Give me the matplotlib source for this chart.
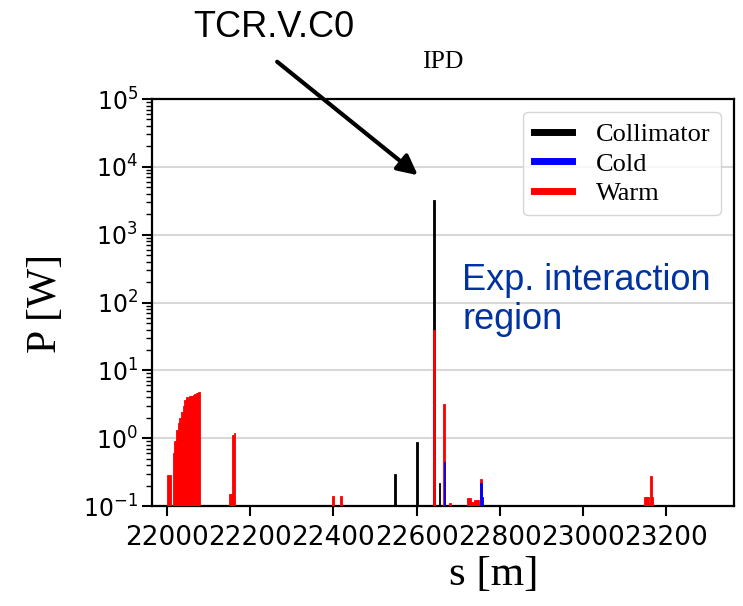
import numpy as np
import matplotlib.pyplot as plt
from matplotlib.lines import Line2D

# collimator losses
coll_s = [22548, 22602, 22642, 22655]
coll_p = [0.30, 0.89, 3300, 0.22]

# cold losses
cold_s = [22667, 22754, 22758]
cold_p = [0.44, 0.22, 0.136]

# warm losses
warm_s = [22004, 22008,
          22017, 22021, 22025, 22029, 22033, 22037, 22041, 22045,
          22049, 22053, 22057, 22061, 22065, 22069, 22073, 22077,
          22151, 22155, 22159, 22163,
          22400, 22418,
          22642, 22665, 22680,
          22724, 22728, 22732, 22736, 22740, 22744, 22748, 22755,
          23148, 23152, 23156, 23162, 23166]
warm_p = [0.29, 0.29,
          0.6, 0.92, 1.3, 1.7, 2.0, 2.4, 3.0, 3.6,
          4.0, 3.9, 4.2, 4.2, 4.4, 4.5, 4.7, 4.8,
          0.15, 0.15, 1.1, 1.2,
          0.14, 0.14,
          40, 3.2, 0.108,
          0.13, 0.13, 0.115, 0.115, 0.12, 0.12, 0.12, 0.25,
          0.135, 0.135, 0.135, 0.28, 0.135]

labels = ["Collimator", "Cold", "Warm"]
colors = ["black", "blue", "red"]
xticks = [22000, 22200, 22400, 22600, 22800, 23000, 23200]

serif = "Liberation Serif"

fig = plt.figure(figsize=(7.43, 6.06), dpi=100)
ax = fig.add_axes([0.2052, 0.165, 0.7826, 0.6716])
ax.set_yscale('log')

w = 4.5
ax.bar(coll_s, coll_p, width=w, color='black', edgecolor='black', lw=0.6, bottom=1e-3, zorder=2)
ax.bar(warm_s, warm_p, width=w, color='red', edgecolor='red', lw=0.6, bottom=1e-3, zorder=3)
ax.bar(cold_s, cold_p, width=w, color='blue', edgecolor='blue', lw=0.6, bottom=1e-3, zorder=4)

ax.set_xlim(21966, 23362)
ax.set_ylim(0.1, 1e5)
ax.set_xticks(xticks)
ax.set_xticklabels([str(t) for t in xticks], fontsize=19, family='DejaVu Sans')
ax.tick_params(axis='y', which='major', labelsize=17, length=7, width=1.5)
ax.tick_params(axis='y', which='minor', length=4, width=1.0)
ax.tick_params(axis='x', which='major', length=7, width=1.5, pad=7)
ax.yaxis.grid(True, which='major', color='#d8d8d8', lw=1.5)
ax.set_axisbelow(True)
for sp in ax.spines.values():
    sp.set_linewidth(1.6)

ax.set_title("IPD", family=serif, fontsize=18.5, pad=22)
fig.text(0.062, 0.5, "P [W]", family=serif, fontsize=30, rotation=90, ha='center', va='center')
fig.text(0.664, 0.052, "s [m]", family=serif, fontsize=31, ha='center', va='center')

handles = [Line2D([], [], color=c, lw=5) for c in colors]
ax.legend(handles, labels, loc='upper right', prop={'family': serif, 'size': 19},
          handlelength=1.45, handletextpad=0.9, labelspacing=0.22, borderaxespad=0.5)

fig.text(0.368, 0.955, "TCR.V.C0", family='Liberation Sans', fontsize=26, ha='center', va='center')
ax.annotate("", xy=(420, 606 - 177), xycoords='figure pixels',
            xytext=(275, 606 - 60), textcoords='figure pixels',
            arrowprops=dict(arrowstyle='-|>', color='black', lw=3, mutation_scale=30))
fig.text(0.622, 0.505, "Exp. interaction\nregion", family='Liberation Sans', fontsize=26,
         color='#0033a0', ha='left', va='center', linespacing=1.15)

fig.savefig("out.png", dpi=100)
